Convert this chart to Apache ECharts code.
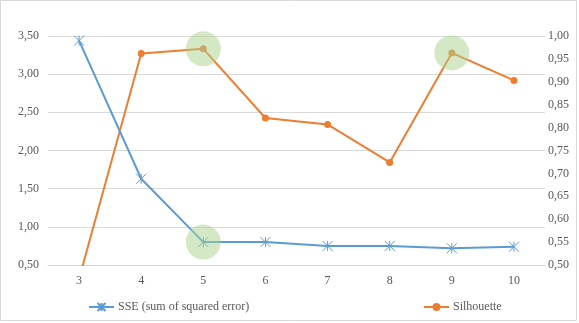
<!DOCTYPE html>
<html>
<head>
<meta charset="utf-8">
<script src="https://cdn.jsdelivr.net/npm/echarts@6/dist/echarts.min.js"></script>
<style>
html,body{margin:0;padding:0;background:#fff;}
#chart{width:579px;height:323px;}
</style>
</head>
<body>
<div id="chart"></div>
<script>
var categories = ['3', '4', '5', '6', '7', '8', '9', '10'];
var sseValues = [3.44, 1.63, 0.80, 0.80, 0.75, 0.75, 0.72, 0.74];
var silhouetteValues = [0.47, 0.962, 0.972, 0.821, 0.807, 0.724, 0.963, 0.903];
var sseHighlight = ['5'];
var silhouetteHighlight = ['5', '9'];
var sseName = 'SSE (sum of squared error)';
var silhouetteName = 'Silhouette';

var FONT = 'Liberation Serif';
var LABEL_COLOR = '#595959';
var GRID_COLOR = '#d9d9d9';
var BLUE = '#5b9bd5';
var ORANGE = '#ed7d31';
var STAR = 'path://M0 0 L10 10 M10 0 L0 10 M5 0 L5 10';
var HALO = 'rgba(169,209,142,0.5)';

function fmt(v){ return v.toFixed(2).replace('.', ','); }
function marks(list, values){
  return list.map(function(c){
    return { coord: [c, values[categories.indexOf(c)]] };
  });
}

var chart = echarts.init(document.getElementById('chart'));
chart.setOption({
  animation: false,
  backgroundColor: '#fff',
  textStyle: { fontFamily: FONT },
  graphic: [{
    type: 'rect',
    shape: { x: 0.5, y: 0.5, width: 576, height: 320 },
    style: { fill: 'none', stroke: GRID_COLOR, lineWidth: 1 },
    silent: true
  }],
  grid: { left: 48, right: 34, top: 36, bottom: 58 },
  legend: [{
    data: [sseName],
    left: 88, top: 301, padding: 0,
    itemWidth: 25, itemHeight: 10,
    textStyle: { fontFamily: FONT, fontSize: 12, color: LABEL_COLOR, padding: [0,0,0,-1] }
  }, {
    data: [silhouetteName],
    left: 423, top: 301, padding: 0,
    itemWidth: 25, itemHeight: 10,
    textStyle: { fontFamily: FONT, fontSize: 12, color: LABEL_COLOR, padding: [0,0,0,-1] }
  }],
  xAxis: {
    type: 'category',
    data: categories,
    boundaryGap: true,
    axisLine: { show: true, lineStyle: { color: GRID_COLOR } },
    axisTick: { show: false },
    axisLabel: { color: LABEL_COLOR, fontFamily: FONT, fontSize: 12, margin: 10 }
  },
  yAxis: [{
    type: 'value',
    min: 0.5, max: 3.5, interval: 0.5,
    axisLine: { show: false },
    axisTick: { show: false },
    splitLine: { show: true, lineStyle: { color: GRID_COLOR, width: 1 } },
    axisLabel: { color: LABEL_COLOR, fontFamily: FONT, fontSize: 12, margin: 9, formatter: fmt }
  }, {
    type: 'value',
    min: 0.5, max: 1.0, interval: 0.05,
    axisLine: { show: false },
    axisTick: { show: false },
    splitLine: { show: false },
    axisLabel: { color: LABEL_COLOR, fontFamily: FONT, fontSize: 12, margin: 3, formatter: fmt }
  }],
  series: [{
    name: sseName,
    type: 'line',
    yAxisIndex: 0,
    data: sseValues,
    symbol: STAR,
    symbolSize: 10,
    lineStyle: { color: BLUE, width: 2 },
    itemStyle: { color: BLUE, borderColor: BLUE, borderWidth: 1 },
    emphasis: { disabled: true },
    z: 3,
    markPoint: {
      symbol: 'circle',
      symbolSize: 35,
      itemStyle: { color: HALO },
      label: { show: false },
      silent: true,
      data: marks(sseHighlight, sseValues)
    }
  }, {
    name: silhouetteName,
    type: 'line',
    yAxisIndex: 1,
    data: silhouetteValues,
    symbol: 'circle',
    symbolSize: 7,
    lineStyle: { color: ORANGE, width: 2 },
    itemStyle: { color: ORANGE },
    emphasis: { disabled: true },
    z: 2,
    clip: true,
    markPoint: {
      symbol: 'circle',
      symbolSize: 35,
      itemStyle: { color: HALO },
      label: { show: false },
      silent: true,
      data: marks(silhouetteHighlight, silhouetteValues)
    }
  }]
});
</script>
</body>
</html>
